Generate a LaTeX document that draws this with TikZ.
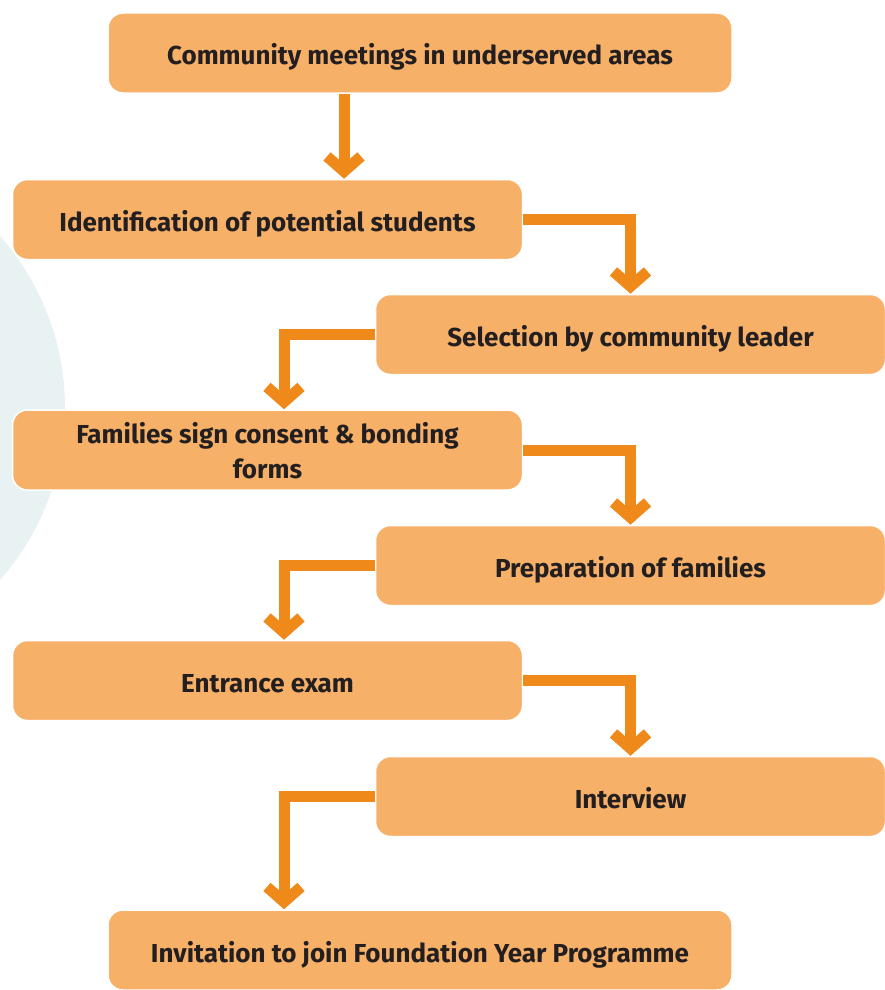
\documentclass[tikz,border=0pt]{standalone}
\usepackage{fontspec}
\setmainfont{Fira Sans}
\usetikzlibrary{arrows.meta}

\definecolor{boxfill}{HTML}{F7B068}
\definecolor{flowline}{HTML}{EF8A1A}
\definecolor{boxtext}{HTML}{231F20}
\definecolor{haze}{HTML}{E8F2F3}

\tikzset{
  stage/.style={rectangle, rounded corners=15pt, fill=boxfill, draw=white,
    line width=1.5pt, minimum height=80pt, text=boxtext,
    text height=26pt, text depth=2pt,
    font=\fontsize{26}{35}\selectfont\bfseries, align=center},
  wide/.style={stage, minimum width=624pt},
  half/.style={stage, minimum width=510pt},
  twoline/.style={text height=58pt, text depth=2pt},
  flow/.style={draw=flowline, line width=11pt, line join=miter,
    -{Straight Barb[sharp, length=15pt, width=34pt]}}
}

\begin{document}
\begin{tikzpicture}[x=1pt, y=-1pt]
  \useasboundingbox (0,0) rectangle (885,990);
  \clip (0,0) rectangle (885,990);

  % pale disc behind the left column
  \fill[haze] (-195,408) circle (260);

  % stages
  \node[wide] (meet) at (420,53) {Community meetings in underserved areas};
  \node[half] (ident) at (267.5,219.5) {Identification of potential students};
  \node[half] (select) at (630.5,334.5) {Selection by community leader};
  \node[half, twoline] (consent) at (267.5,450) {Families sign consent \& bonding\\forms};
  \node[half] (prep) at (630.5,565.5) {Preparation of families};
  \node[half] (exam) at (267.5,680.5) {Entrance exam};
  \node[half] (inter) at (630.5,796.5) {Interview};
  \node[wide] (invite) at (420,950) {Invitation to join Foundation Year Programme};

  % connectors
  \draw[flow] ([xshift=-76pt]meet.south) -- ([xshift=-76pt]meet.south |- ident.north);
  \draw[flow] (ident.east) -| (select.north);
  \draw[flow] (select.west) -| ([xshift=16.5pt]consent.north);
  \draw[flow] (consent.east) -| (prep.north);
  \draw[flow] (prep.west) -| ([xshift=16.5pt]exam.north);
  \draw[flow] (exam.east) -| (inter.north);
  \draw[flow] (inter.west) -| ([xshift=-136pt]invite.north);
\end{tikzpicture}
\end{document}
